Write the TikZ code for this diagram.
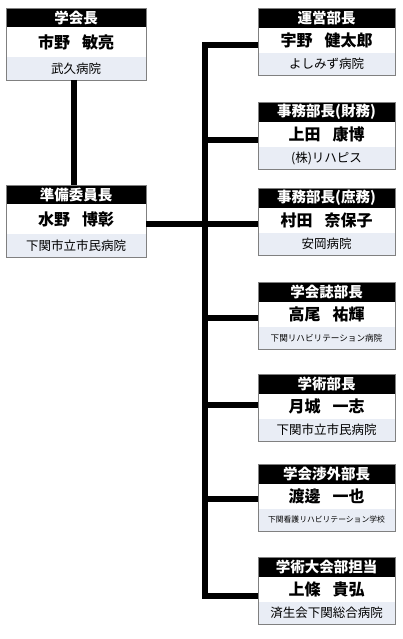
\documentclass[tikz,border=0pt]{standalone}
\usepackage{fontspec}
\setmainfont{Noto Sans CJK JP}
\usetikzlibrary{fit}
\definecolor{subbg}{HTML}{E9EDF5}
\definecolor{frm}{HTML}{808080}
\tikzset{
  hdr/.style={fill=black, text=white, inner sep=0pt, outer sep=0pt, font=\fontsize{14.5}{15}\selectfont\bfseries},
  nm/.style={fill=white, text=black, inner sep=0pt, outer sep=0pt, font=\fontsize{16}{17}\selectfont\bfseries},
  sb/.style={fill=subbg, text=black, inner sep=0pt, outer sep=0pt, font=\fontsize{12.5}{13}\selectfont},
  frame/.style={draw=frm, line width=0.9pt, inner sep=0pt, outer sep=0pt},
  conn/.style={draw=black, line width=6pt, line join=miter}
}
\newcommand\gap{\hspace{0.75em}}
\newcommand\orgbox[6]{%
  \node[hdr, minimum width=\bw, minimum height=\hh, anchor=north west] (#1-h) at (#2,#3) {#4};
  \node[nm, minimum width=\bw, minimum height=\nh, anchor=north west] (#1-n) at (#1-h.south west) {#5};
  \node[sb, minimum width=\bw, minimum height=\sh, anchor=north west] (#1-s) at (#1-n.south west) {#6};
  \node[frame, fit=(#1-h)(#1-s)] (#1) {};
}
\begin{document}
\begin{tikzpicture}[x=1pt, y=-1pt]
\useasboundingbox (0,0) rectangle (402,639);
% left boxes
\def\bw{140pt}\def\hh{19pt}\def\nh{30pt}\def\sh{23pt}
\orgbox{l1}{6}{8}{学会長}{市野\gap 敏亮}{武久病院}
\orgbox{l2}{6}{185}{準備委員長}{水野\gap 博彰}{下関市立市民病院}
% right boxes
\def\bw{137pt}\def\hh{20pt}\def\nh{25pt}\def\sh{22pt}
\orgbox{r1}{258}{8}{運営部長}{宇野\gap 健太郎}{よしみず病院}
\orgbox{r2}{258}{102}{事務部長(財務)}{上田\gap 康博}{(株)リハピス}
\orgbox{r3}{258}{188}{事務部長(庶務)}{村田\gap 奈保子}{安岡病院}
\orgbox{r4}{258}{282}{学会誌部長}{高尾\gap 祐輝}{\fontsize{8.6}{9}\selectfont 下関リハビリテーション病院}
\orgbox{r5}{258}{374}{学術部長}{月城\gap 一志}{下関市立市民病院}
\orgbox{r6}{258}{464}{学会渉外部長}{渡邊\gap 一也}{\fontsize{7.8}{8}\selectfont 下関看護リハビリテーション学校}
\orgbox{r7}{258}{557}{学術大会部担当}{上條\gap 貴弘}{済生会下関総合病院}
% spine coordinates
\coordinate (s1) at (205,45);
\coordinate (s2) at (205,140);
\coordinate (s3) at (205,224);
\coordinate (s4) at (205,318);
\coordinate (s5) at (205,405);
\coordinate (s6) at (205,499);
\coordinate (s7) at (205,596);
% connectors
\draw[conn] ([xshift=-2pt]l1.south) -- ([xshift=-2pt]l2.north);
\draw[conn] (s1 -| r1.west) -- (s1) -- (s7) -- (s7 -| r7.west);
\draw[conn] (s2) -- (s2 -| r2.west);
\draw[conn] (s3 -| l2.east) -- (s3 -| r3.west);
\draw[conn] (s4) -- (s4 -| r4.west);
\draw[conn] (s5) -- (s5 -| r5.west);
\draw[conn] (s6) -- (s6 -| r6.west);
\end{tikzpicture}
\end{document}
